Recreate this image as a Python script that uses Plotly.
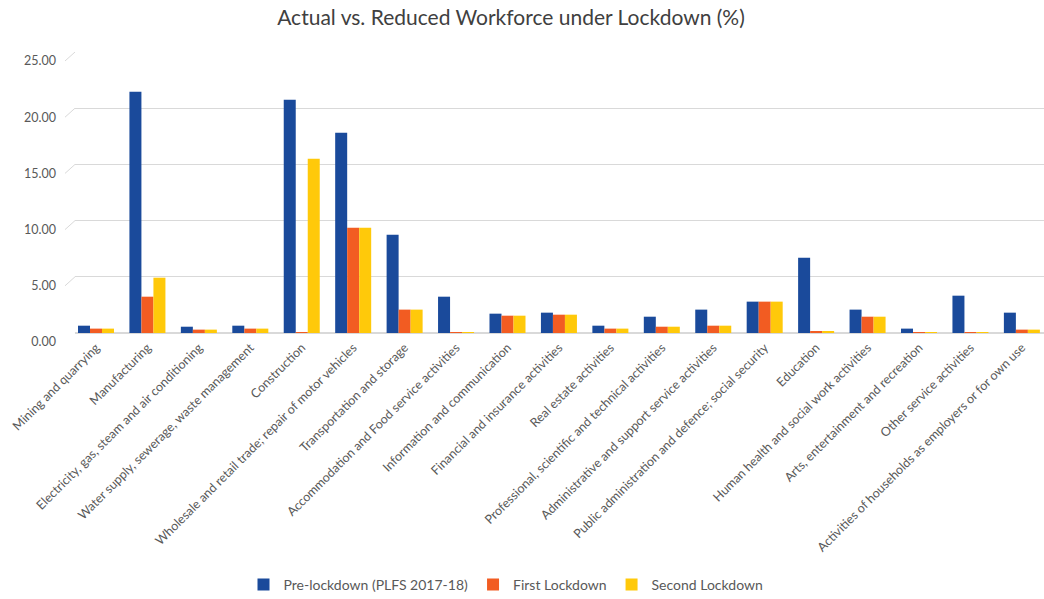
import plotly.graph_objects as go

# Industry sectors (x-axis categories)
sectors = [
    "Mining and quarrying",
    "Manufacturing",
    "Electricity, gas, steam and air conditioning",
    "Water supply, sewerage, waste management",
    "Construction",
    "Wholesale and retail trade; repair of motor vehicles",
    "Transportation and storage",
    "Accommodation and Food service activities",
    "Information and communication",
    "Financial and insurance activities",
    "Real estate activities",
    "Professional, scientific and technical activities",
    "Administrative and support service activities",
    "Public administration and defence; social security",
    "Education",
    "Human health and social work activities",
    "Arts, entertainment and recreation",
    "Other service activities",
    "Activities of households as employers or for own use",
]

# Share of workforce (%) per sector
pre_lockdown = [0.65, 21.47, 0.56, 0.65, 20.76, 17.82, 8.75, 3.23, 1.72, 1.81,
                0.65, 1.45, 2.08, 2.79, 6.70, 2.08, 0.39, 3.32, 1.81]
first_lockdown = [0.39, 3.23, 0.30, 0.39, 0.06, 9.37, 2.08, 0.03, 1.54, 1.63,
                  0.39, 0.56, 0.65, 2.79, 0.12, 1.45, 0.03, 0.03, 0.30]
second_lockdown = [0.39, 4.92, 0.30, 0.39, 15.51, 9.37, 2.08, 0.03, 1.54, 1.63,
                   0.39, 0.56, 0.65, 2.79, 0.12, 1.45, 0.03, 0.03, 0.30]

series_names = ["Pre-lockdown (PLFS 2017-18)", "First Lockdown", "Second Lockdown"]
series_colors = ["#1A4A9B", "#F25C22", "#FFC90A"]
y_ticks = [0, 5, 10, 15, 20, 25]

FONT = "Lato, 'Open Sans', sans-serif"
TEXT_GREY = "#595959"
GRID = "#D9D9D9"

fig = go.Figure()
for name, vals, col in zip(series_names, [pre_lockdown, first_lockdown, second_lockdown], series_colors):
    fig.add_trace(go.Bar(name=name, x=list(range(len(sectors))), y=vals,
                         marker=dict(color=col, line=dict(width=0))))

W, H = 1044, 599
ML, MR, MT, MB = 75, 0, 52, 266
plot_w = W - ML - MR
plot_h = H - MT - MB

# small slanted ticks at the left end of every gridline
shapes = []
dy = 9 * (25 / plot_h)
for v in y_ticks:
    shapes.append(dict(type="line", xref="paper", yref="y",
                       x0=0, x1=-10 / plot_w, y0=v, y1=v - dy,
                       line=dict(color=GRID, width=1)))

fig.update_layout(
    width=W, height=H,
    margin=dict(l=ML, r=MR, t=MT, b=MB, pad=0),
    paper_bgcolor="white", plot_bgcolor="white",
    font=dict(family=FONT, color=TEXT_GREY),
    title=dict(text="Actual vs. Reduced Workforce under Lockdown (%)",
               x=511 / W, xanchor="center", xref="container",
               y=1 - 18 / H, yanchor="middle", yref="container",
               font=dict(family=FONT, size=21, color="#404040")),
    barmode="group", bargap=0.3, bargroupgap=0,
    showlegend=True,
    legend=dict(orientation="h", xref="container", yref="container",
                x=506 / W, xanchor="center", y=1 - 585 / H, yanchor="middle",
                font=dict(family=FONT, size=14, color=TEXT_GREY),
                itemwidth=30, traceorder="normal"),
    shapes=shapes,
)

fig.update_xaxes(
    tickmode="array", tickvals=list(range(len(sectors))), ticktext=sectors,
    tickangle=-45, tickfont=dict(family=FONT, size=12.5, color=TEXT_GREY),
    range=[-0.408, 18.43], showgrid=False, zeroline=False, showline=False,
    ticks="", ticklabelstandoff=4, fixedrange=True,
)
fig.update_yaxes(
    range=[0, 25], tickvals=y_ticks, tickformat=".2f",
    tickfont=dict(family=FONT, size=12.5, color=TEXT_GREY),
    showgrid=True, gridcolor=GRID, gridwidth=1,
    zeroline=True, zerolinecolor=GRID, zerolinewidth=1.5,
    showline=False, ticks="", ticklabelshift=9, ticklabelstandoff=18,
    fixedrange=True,
)

fig.write_html("out.html")
